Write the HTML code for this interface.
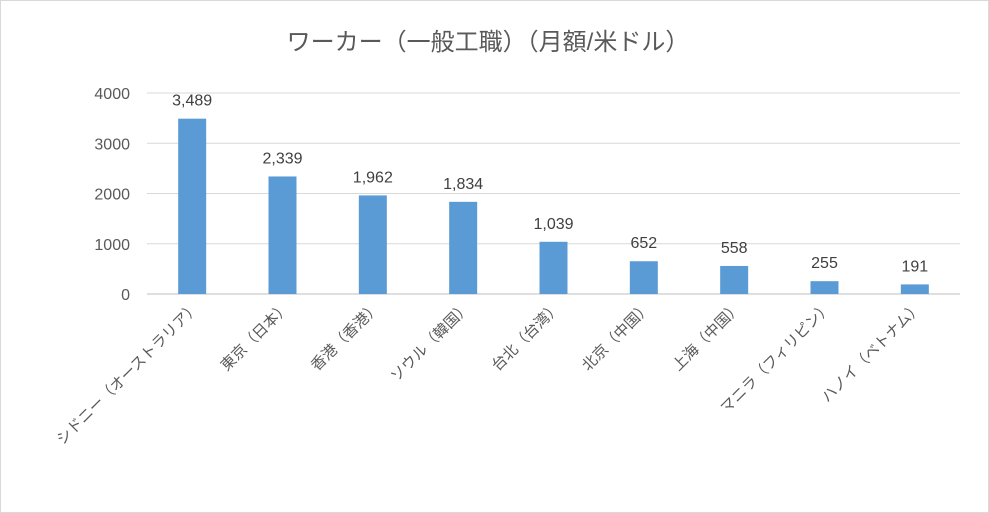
<!DOCTYPE html>
<html><head><meta charset="utf-8"><style>
body{margin:0;background:#fff}
svg{display:block;font-family:"Liberation Sans","Noto Sans CJK JP",sans-serif}
</style></head><body>
<svg id="c" width="989" height="513">
<rect x="0.5" y="0.5" width="988" height="512" fill="#fff" stroke="#d9d9d9"/>
<text x="488" y="50" text-anchor="middle" font-size="24" fill="#595959">ワーカー（一般工職）（月額/米ドル）</text>
<g id="grid"></g><g id="bars"></g><g id="labels"></g>
</svg>
<script>
const categories=["シドニー（オーストラリア）","東京（日本）","香港（香港）","ソウル（韓国）","台北（台湾）","北京（中国）","上海（中国）","マニラ（フィリピン）","ハノイ（ベトナム）"];
const values=[3489,2339,1962,1834,1039,652,558,255,191];
const valueLabels=["3,489","2,339","1,962","1,834","1,039","652","558","255","191"];
const ticks=[0,1000,2000,3000,4000];
const NS="http://www.w3.org/2000/svg";
const x0=147,x1=960,y0=294,yTop=93,maxV=4000;
const y=v=>y0-(v/maxV)*(y0-yTop);
const step=(x1-x0)/categories.length;
const xc=i=>x0+step*(i+0.5);
function mk(t,a,p){const e=document.createElementNS(NS,t);for(const k in a)e.setAttribute(k,a[k]);document.getElementById(p).appendChild(e);return e;}
ticks.forEach(t=>{
 const l=mk('line',{x1:x0,x2:x1,y1:y(t),y2:y(t),stroke:t===0?'#bfbfbf':'#d9d9d9'},'grid');
 
 
 const tx=mk('text',{x:130,y:y(t)+6,'text-anchor':'end','font-size':16,fill:'#595959'},'grid');
 tx.textContent=t;
 
 
});
values.forEach((v,i)=>{
 const r=mk('rect',{x:xc(i)-14,y:y(v),width:28,height:y0-y(v),fill:'#5b9bd5'},'bars');
 
 
 const t=mk('text',{x:xc(i),y:y(v)-13,'text-anchor':'middle','font-size':16,fill:'#404040'},'labels');
 t.textContent=valueLabels[i];
 
 
 const c=mk('text',{transform:`translate(${xc(i)+8},${y0+14}) rotate(-45)`,'text-anchor':'end','font-size':15,fill:'#595959'},'labels');
 c.textContent=categories[i];
 
 
});
</script>
</body></html>
